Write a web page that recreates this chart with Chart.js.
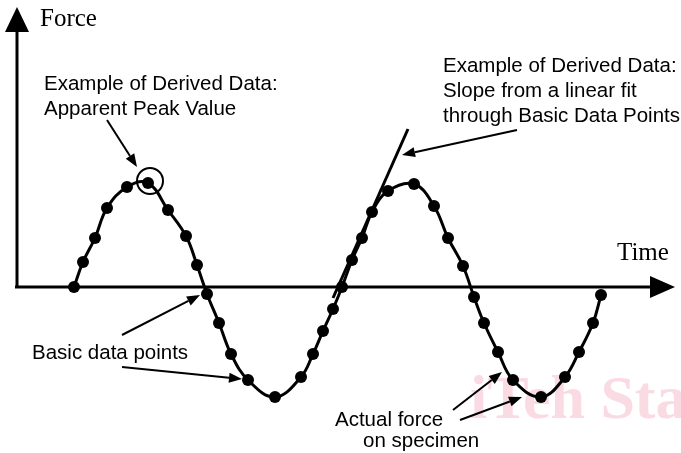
<!DOCTYPE html>
<html>
<head>
<meta charset="utf-8">
<script src="https://cdn.jsdelivr.net/npm/chart.js@4.4.1/dist/chart.umd.min.js"></script>
<style>
    html, body { margin: 0; padding: 0; background: #fff; }
    #wrap { width: 681px; height: 453px; }
</style>
</head>
<body>
<div id="wrap"><canvas id="force-chart" width="681" height="453"></canvas></div>
<script>
// Basic data points (time, force)
const timeValues = [0.57, 0.66, 0.78, 0.90, 1.10, 1.31, 1.51, 1.69, 1.80, 1.90, 2.02, 2.14, 2.31, 2.58, 2.84, 2.96, 3.06, 3.16,
    3.25, 3.35, 3.45, 3.55, 3.71, 3.97, 4.17, 4.31, 4.46, 4.57, 4.67, 4.81, 4.96, 5.24, 5.48, 5.62, 5.76, 5.84];
const forceValues = [0.00, 0.25, 0.49, 0.79, 1.00, 1.04, 0.77, 0.51, 0.22, -0.07, -0.36, -0.67, -0.93, -1.10, -0.90, -0.67, -0.44, -0.22,
    0.00, 0.27, 0.49, 0.75, 0.96, 1.03, 0.81, 0.49, 0.21, -0.10, -0.36, -0.65, -0.93, -1.10, -0.90, -0.65, -0.36, -0.08];

// derived data
const peakTime = [1.33];
const peakForce = [1.06];
const fitTimes = [3.16, 3.91];
const fitForces = [-0.11, 1.58];

// axis labels
const xAxisLabel = 'Time';
const yAxisLabel = 'Force';

// annotation texts and where they sit (time, force of the text baseline start)
const notes = [
    { lines: ['Example of Derived Data:', 'Apparent Peak Value'], t: 0.27, f: 1.97 },
    { lines: ['Example of Derived Data:', 'Slope from a linear fit', 'through Basic Data Points'], t: 4.26, f: 2.15 },
    { lines: ['Basic data points'], t: 0.15, f: -0.72 },
    { lines: ['Actual force'], t: 3.18, f: -1.39 },
    { lines: ['on specimen'], t: 3.46, f: -1.60 }
];

// arrows: from (t1,f1) to (t2,f2)
const arrows = [
    [0.90, 1.67, 1.20, 1.20],
    [5.00, 1.57, 3.85, 1.32],
    [1.05, -0.48, 1.83, -0.08],
    [1.05, -0.80, 2.25, -0.92],
    [4.36, -1.23, 4.85, -0.85],
    [4.43, -1.33, 5.05, -1.10]
];

function drawArrow(ctx, x1, y1, x2, y2, headLen, headHalf, width) {
    const ang = Math.atan2(y2 - y1, x2 - x1);
    const bx = x2 - headLen * Math.cos(ang);
    const by = y2 - headLen * Math.sin(ang);
    ctx.lineWidth = width;
    ctx.beginPath();
    ctx.moveTo(x1, y1);
    ctx.lineTo(bx, by);
    ctx.stroke();
    ctx.beginPath();
    ctx.moveTo(x2, y2);
    ctx.lineTo(bx + headHalf * Math.sin(ang), by - headHalf * Math.cos(ang));
    ctx.lineTo(bx - headHalf * Math.sin(ang), by + headHalf * Math.cos(ang));
    ctx.closePath();
    ctx.fill();
}

const sketchPlugin = {
    id: 'sketch',
    beforeDatasetsDraw(chart) {
        const ctx = chart.ctx;
        const xs = chart.scales.x, ys = chart.scales.y;
        ctx.save();

        // faint watermark
        ctx.fillStyle = '#fadbe3';
        ctx.font = 'bold 62px "Liberation Serif"';
        ctx.fillText('iTeh Standards', xs.getPixelForValue(4.53), ys.getPixelForValue(-1.31));

        // axes with arrowheads
        ctx.strokeStyle = '#000';
        ctx.fillStyle = '#000';
        const x0 = xs.getPixelForValue(0), y0 = ys.getPixelForValue(0);
        drawArrow(ctx, xs.getPixelForValue(-0.02), y0, xs.getPixelForValue(6.58), y0, 25, 11, 3);
        drawArrow(ctx, x0, y0 + 1, x0, ys.getPixelForValue(2.80), 25, 12, 3);

        ctx.font = '25px "Liberation Serif"';
        ctx.fillText(yAxisLabel, xs.getPixelForValue(0.23), ys.getPixelForValue(2.61));
        ctx.fillText(xAxisLabel, xs.getPixelForValue(6.00), ys.getPixelForValue(0.27));
        ctx.restore();
    },
    afterDatasetsDraw(chart) {
        const ctx = chart.ctx;
        const xs = chart.scales.x, ys = chart.scales.y;
        ctx.save();
        ctx.fillStyle = '#000';
        ctx.strokeStyle = '#000';
        ctx.font = '20.5px "Liberation Sans", Arial, sans-serif';
        notes.forEach(n => {
            const x = xs.getPixelForValue(n.t);
            const y = ys.getPixelForValue(n.f);
            n.lines.forEach((line, i) => ctx.fillText(line, x, y + i * 25));
        });
        arrows.forEach(a => {
            drawArrow(ctx, xs.getPixelForValue(a[0]), ys.getPixelForValue(a[1]),
                xs.getPixelForValue(a[2]), ys.getPixelForValue(a[3]), 13, 5, 2);
        });
        ctx.restore();
    }
};

const ctx = document.getElementById('force-chart').getContext('2d');
new Chart(ctx, {
    type: 'line',
    data: {
        datasets: [
            {
                label: 'Actual force on specimen',
                data: timeValues.map((t, i) => ({ x: t, y: forceValues[i] })),
                borderColor: '#000',
                backgroundColor: '#000',
                borderWidth: 3,
                tension: 0.4,
                pointRadius: 6,
                pointBorderWidth: 0,
                pointBackgroundColor: '#000',
                fill: false
            },
            {
                label: 'Linear fit',
                data: fitTimes.map((t, i) => ({ x: t, y: fitForces[i] })),
                borderColor: '#000',
                borderWidth: 3,
                tension: 0,
                pointRadius: 0,
                fill: false
            },
            {
                label: 'Apparent peak',
                data: peakTime.map((t, i) => ({ x: t, y: peakForce[i] })),
                showLine: false,
                pointStyle: 'circle',
                pointRadius: 13,
                pointBorderWidth: 2,
                pointBorderColor: '#000',
                pointBackgroundColor: 'rgba(0,0,0,0)'
            }
        ]
    },
    options: {
        responsive: false,
        devicePixelRatio: 1,
        animation: false,
        layout: { autoPadding: false, padding: { left: 17, right: 0, top: 0, bottom: 0 } },
        scales: {
            x: { type: 'linear', display: false, min: 0, max: 6.64 },
            y: { type: 'linear', display: false, min: -1.66, max: 2.87 }
        },
        plugins: {
            legend: { display: false },
            tooltip: { enabled: false }
        }
    },
    plugins: [sketchPlugin]
});
</script>
</body>
</html>
